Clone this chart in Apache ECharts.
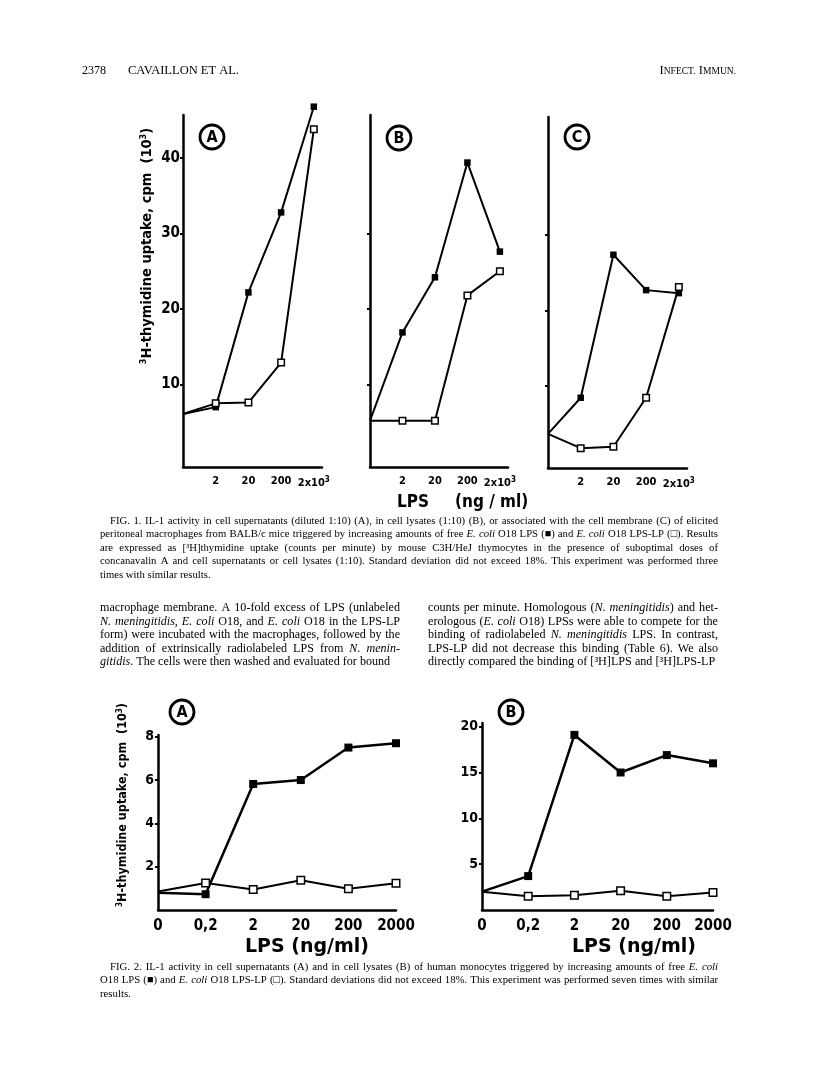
<!DOCTYPE html>
<html><head><meta charset="utf-8">
<script src="https://cdn.jsdelivr.net/npm/echarts@6/dist/echarts.min.js"></script>
<style>html,body{margin:0;padding:0;background:#fff}#c{width:816px;height:1084px}</style>
</head><body><div id="c"></div>
<script>
// ---------- DATA ----------
const fig1Doses = ['0', '2', '20', '200', '2x10³'];
const fig1A_LPS   = [6.1, 7.0, 22.2, 32.8, 46.8];
const fig1A_LPSLP = [6.1, 7.5, 7.6, 12.9, 43.8];
const fig1B_LPS   = [5.2, 16.9, 24.2, 39.4, 27.6];
const fig1B_LPSLP = [5.2, 5.2, 5.2, 21.8, 25.0];
const fig1C_LPS   = [3.6, 8.4, 27.4, 22.7, 22.3];
const fig1C_LPSLP = [3.6, 1.7, 1.9, 8.4, 23.1];
const fig1YTicksA = [10, 20, 30, 40];
const fig1YTicksBC = [10, 20, 30];

const fig2Doses = ['0', '0,2', '2', '20', '200', '2000'];
const fig2A_LPS   = [0.8, 0.73, 5.82, 6.0, 7.5, 7.7];
const fig2A_LPSLP = [0.85, 1.25, 0.95, 1.37, 0.98, 1.23];
const fig2B_LPS   = [2.0, 3.7, 19.1, 15.0, 16.9, 16.0];
const fig2B_LPSLP = [2.0, 1.5, 1.6, 2.1, 1.5, 1.9];
const fig2YTicksA = [2, 4, 6, 8];
const fig2YTicksB = [5, 10, 15, 20];

const yTitle = '{s|3}H-thymidine uptake, cpm  (10{s|3})';

const caption1 = [
  'FIG. 1. IL-1 activity in cell supernatants (diluted 1:10) (A), in cell lysates (1:10) (B), or associated with the cell membrane (C) of elicited',
  'peritoneal macrophages from BALB/c mice triggered by increasing amounts of free _E. coli_ O18 LPS (■) and _E. coli_ O18 LPS-LP (□). Results',
  'are expressed as [³H]thymidine uptake (counts per minute) by mouse C3H/HeJ thymocytes in the presence of suboptimal doses of',
  'concanavalin A and cell supernatants or cell lysates (1:10). Standard deviation did not exceed 18%. This experiment was performed three',
  'times with similar results.'
];
const bodyLeft = [
  'macrophage membrane. A 10-fold excess of LPS (unlabeled',
  '_N. meningitidis_, _E. coli_ O18, and _E. coli_ O18 in the LPS-LP',
  'form) were incubated with the macrophages, followed by the',
  'addition of extrinsically radiolabeled LPS from _N. menin-_',
  '_gitidis_. The cells were then washed and evaluated for bound'
];
const bodyRight = [
  'counts per minute. Homologous (_N. meningitidis_) and het-',
  'erologous (_E. coli_ O18) LPSs were able to compete for the',
  'binding of radiolabeled _N. meningitidis_ LPS. In contrast,',
  'LPS-LP did not decrease this binding (Table 6). We also',
  'directly compared the binding of [³H]LPS and [³H]LPS-LP'
];
const caption2 = [
  'FIG. 2. IL-1 activity in cell supernatants (A) and in cell lysates (B) of human monocytes triggered by increasing amounts of free _E. coli_',
  'O18 LPS (■) and _E. coli_ O18 LPS-LP (□). Standard deviations did not exceed 18%. This experiment was performed seven times with similar',
  'results.'
];

// ---------- STYLE / LAYOUT ----------
const COND = "'DejaVu Sans Condensed','Liberation Sans Narrow',sans-serif";
const SERIF = "'Liberation Serif','DejaVu Serif',serif";
const ROUND = "'DejaVu Sans',sans-serif";

const chart = echarts.init(document.getElementById('c'), null, {renderer: 'canvas', width: 816, height: 1084});

const grids = [
  {left: 183, top: 115, width: 139, height: 352},
  {left: 370, top: 115, width: 138, height: 352},
  {left: 548, top: 117, width: 139, height: 351},
  {left: 158, top: 735, width: 238, height: 175},
  {left: 482, top: 723, width: 231, height: 187}
];

const supRich = {s: {fontSize: 8, fontWeight: 'bold', fontFamily: COND, color: '#000', padding: [0, 0, 7, 0]}};

function xAxis1(gi) {
  return {gridIndex: gi, type: 'value', min: 0, max: 4.25,
    axisLine: {show: true, onZero: false, lineStyle: {color: '#000', width: 2.5}},
    axisTick: {show: false}, splitLine: {show: false},
    axisLabel: {customValues: [1, 2, 3, 4], formatter: v => fig1Doses[Math.round(v)].replace('³', '{s|3}'),
      color: '#000', fontFamily: COND, fontWeight: 'bold', fontSize: 11, margin: 9, rich: supRich}};
}
function yAxis1(gi, ticks, showLabels) {
  return {gridIndex: gi, type: 'value', min: -0.93, max: 45.7,
    axisLine: {show: true, onZero: false, lineStyle: {color: '#000', width: 2.5}},
    axisTick: {show: true, customValues: ticks, length: 3, lineStyle: {color: '#000', width: 2}},
    splitLine: {show: false},
    axisLabel: {show: showLabels, customValues: ticks, formatter: v => String(v), color: '#000',
      fontFamily: COND, fontWeight: 'bold', fontSize: 15, margin: 3}};
}
function xAxis2(gi) {
  return {gridIndex: gi, type: 'value', min: 0, max: 5,
    axisLine: {show: true, onZero: false, lineStyle: {color: '#000', width: 2.5}},
    axisTick: {show: false}, splitLine: {show: false},
    axisLabel: {customValues: [0, 1, 2, 3, 4, 5], formatter: v => fig2Doses[Math.round(v)],
      color: '#000', fontFamily: COND, fontWeight: 'bold', fontSize: 15, margin: 9}};
}
function yAxis2(gi, max, ticks) {
  return {gridIndex: gi, type: 'value', min: 0, max: max,
    axisLine: {show: true, onZero: false, lineStyle: {color: '#000', width: 2.5}},
    axisTick: {show: true, customValues: ticks, length: 3, lineStyle: {color: '#000', width: 2}},
    splitLine: {show: false},
    axisLabel: {customValues: ticks, formatter: v => String(v), color: '#000',
      fontFamily: COND, fontWeight: 'bold', fontSize: 14, margin: 4}};
}
function mk(gi, vals, filled, size, lw) {
  return {type: 'line', xAxisIndex: gi, yAxisIndex: gi, clip: false, silent: true,
    symbol: 'rect', symbolSize: size, showSymbol: true, z: filled ? 2 : 3,
    lineStyle: {color: '#000', width: lw},
    itemStyle: {color: filled ? '#000' : '#fff', borderColor: '#000', borderWidth: filled ? 0 : 1.5},
    data: vals.map((v, i) => i === 0 ? {value: [i, v], symbol: 'none'} : [i, v])};
}

// ---------- TEXT HELPERS ----------
const mctx = document.createElement('canvas').getContext('2d');
function measure(t, size, it) { mctx.font = (it ? 'italic ' : 'normal ') + 'normal ' + size + 'px ' + SERIF; return mctx.measureText(t).width; }
function parseLine(text, size) {
  let it = false;
  return text.split(' ').map(tok => {
    const segs = []; let cur = '';
    for (const ch of tok) {
      if (ch === '_') { if (cur) segs.push({t: cur, it}); cur = ''; it = !it; }
      else cur += ch;
    }
    if (cur) segs.push({t: cur, it});
    return {segs, w: segs.reduce((a, s) => a + measure(s.t, size, s.it), 0)};
  });
}
function natural(text, size) {
  const p = parseLine(text, size);
  return p.reduce((a, q) => a + q.w, 0) + (p.length - 1) * measure(' ', size, false);
}
function block(lines, x, y0, width, lh, indent, maxSize, out) {
  let size = maxSize;
  lines.forEach((l, i) => {
    const w = width - (i === 0 ? indent : 0);
    const n = natural(l, 12);
    if (i < lines.length - 1 || lines.length === 1) size = Math.min(size, 12 * w / n * 0.985);
  });
  lines.forEach((l, i) => {
    const lx = x + (i === 0 ? indent : 0);
    const w = width - (i === 0 ? indent : 0);
    const p = parseLine(l, size);
    const tot = p.reduce((a, q) => a + q.w, 0);
    const just = i < lines.length - 1;
    const gap = (just && p.length > 1) ? (w - tot) / (p.length - 1) : measure(' ', size, false);
    let cx = lx;
    p.forEach(q => {
      q.segs.forEach(s => {
        out.push({type: 'text', x: cx, y: y0 + i * lh, silent: true,
          style: {text: s.t, fontFamily: SERIF, fontSize: size, fontStyle: s.it ? 'italic' : 'normal',
            fill: '#000', verticalAlign: 'middle', align: 'left'}});
        cx += measure(s.t, size, s.it);
      });
      cx += gap;
    });
  });
}
function circled(cx, cy, r, letter, fs, out) {
  out.push({type: 'circle', shape: {cx, cy, r}, silent: true, style: {fill: '#fff', stroke: '#000', lineWidth: 2.8}});
  out.push({type: 'text', x: cx, y: cy + 1, silent: true,
    style: {text: letter, fontFamily: COND, fontWeight: 'bold', fontSize: fs, fill: '#000', align: 'center', verticalAlign: 'middle'}});
}

const g = [];
// header
g.push({type: 'text', x: 82, y: 71, silent: true, style: {text: '2378', fontFamily: SERIF, fontSize: 12, fill: '#000', verticalAlign: 'middle'}});
g.push({type: 'text', x: 128, y: 71, silent: true, style: {text: 'CAVAILLON ET AL.', fontFamily: SERIF, fontSize: 12.5, fill: '#000', verticalAlign: 'middle'}});
g.push({type: 'text', x: 736, y: 71, silent: true, style: {text: '{b|I}{s|NFECT.} {b|I}{s|MMUN.}', align: 'right', verticalAlign: 'middle',
  rich: {b: {fontFamily: SERIF, fontSize: 12.5, color: '#000'}, s: {fontFamily: SERIF, fontSize: 9.5, color: '#000'}}}});

// circled letters
circled(212, 137, 12, 'A', 16, g);
circled(399, 138, 12, 'B', 16, g);
circled(577, 137, 12, 'C', 16, g);
circled(182, 712, 12, 'A', 16, g);
circled(511, 712, 12, 'B', 16, g);

// y titles
g.push({type: 'text', x: 147, y: 246, rotation: Math.PI / 2, silent: true,
  style: {text: yTitle, align: 'center', verticalAlign: 'middle', fontFamily: COND, fontWeight: 'bold', fontSize: 14.5, fill: '#000',
    rich: {s: {fontFamily: COND, fontWeight: 'bold', fontSize: 9, padding: [0, 0, 7, 0]}}}});
g.push({type: 'text', x: 123, y: 805, rotation: Math.PI / 2, silent: true,
  style: {text: yTitle, align: 'center', verticalAlign: 'middle', fontFamily: COND, fontWeight: 'bold', fontSize: 12.5, fill: '#000',
    rich: {s: {fontFamily: COND, fontWeight: 'bold', fontSize: 8, padding: [0, 0, 6, 0]}}}});

// x titles
g.push({type: 'text', x: 397, y: 503, silent: true, style: {text: 'LPS', fontFamily: COND, fontWeight: 'bold', fontSize: 17, fill: '#000', verticalAlign: 'middle'}});
g.push({type: 'text', x: 455, y: 503, silent: true, style: {text: '(ng / ml)', fontFamily: COND, fontWeight: 'bold', fontSize: 17, fill: '#000', verticalAlign: 'middle'}});
g.push({type: 'text', x: 307, y: 947, silent: true, style: {text: 'LPS (ng/ml)', fontFamily: ROUND, fontWeight: 'bold', fontSize: 19, fill: '#000', align: 'center', verticalAlign: 'middle'}});
g.push({type: 'text', x: 634, y: 947, silent: true, style: {text: 'LPS (ng/ml)', fontFamily: ROUND, fontWeight: 'bold', fontSize: 19, fill: '#000', align: 'center', verticalAlign: 'middle'}});

// text blocks
block(caption1, 100, 521, 618, 13.5, 10, 11.5, g);
block(bodyLeft, 100, 608, 300, 13.5, 0, 12.5, g);
block(bodyRight, 428, 608, 290, 13.5, 0, 12.5, g);
block(caption2, 100, 967, 618, 13.5, 10, 11.5, g);

chart.setOption({
  animation: false,
  grid: grids,
  xAxis: [xAxis1(0), xAxis1(1), xAxis1(2), xAxis2(3), xAxis2(4)],
  yAxis: [yAxis1(0, fig1YTicksA, true), yAxis1(1, fig1YTicksBC, false), yAxis1(2, fig1YTicksBC, false),
          yAxis2(3, 8.08, fig2YTicksA), yAxis2(4, 20.4, fig2YTicksB)],
  series: [
    mk(0, fig1A_LPS, true, 6.5, 2), mk(0, fig1A_LPSLP, false, 6.5, 2),
    mk(1, fig1B_LPS, true, 6.5, 2), mk(1, fig1B_LPSLP, false, 6.5, 2),
    mk(2, fig1C_LPS, true, 6.5, 2), mk(2, fig1C_LPSLP, false, 6.5, 2),
    mk(3, fig2A_LPS, true, 8, 2.5), mk(3, fig2A_LPSLP, false, 7.5, 2),
    mk(4, fig2B_LPS, true, 8, 2.5), mk(4, fig2B_LPSLP, false, 7.5, 2)
  ],
  graphic: g
});
</script></body></html>
